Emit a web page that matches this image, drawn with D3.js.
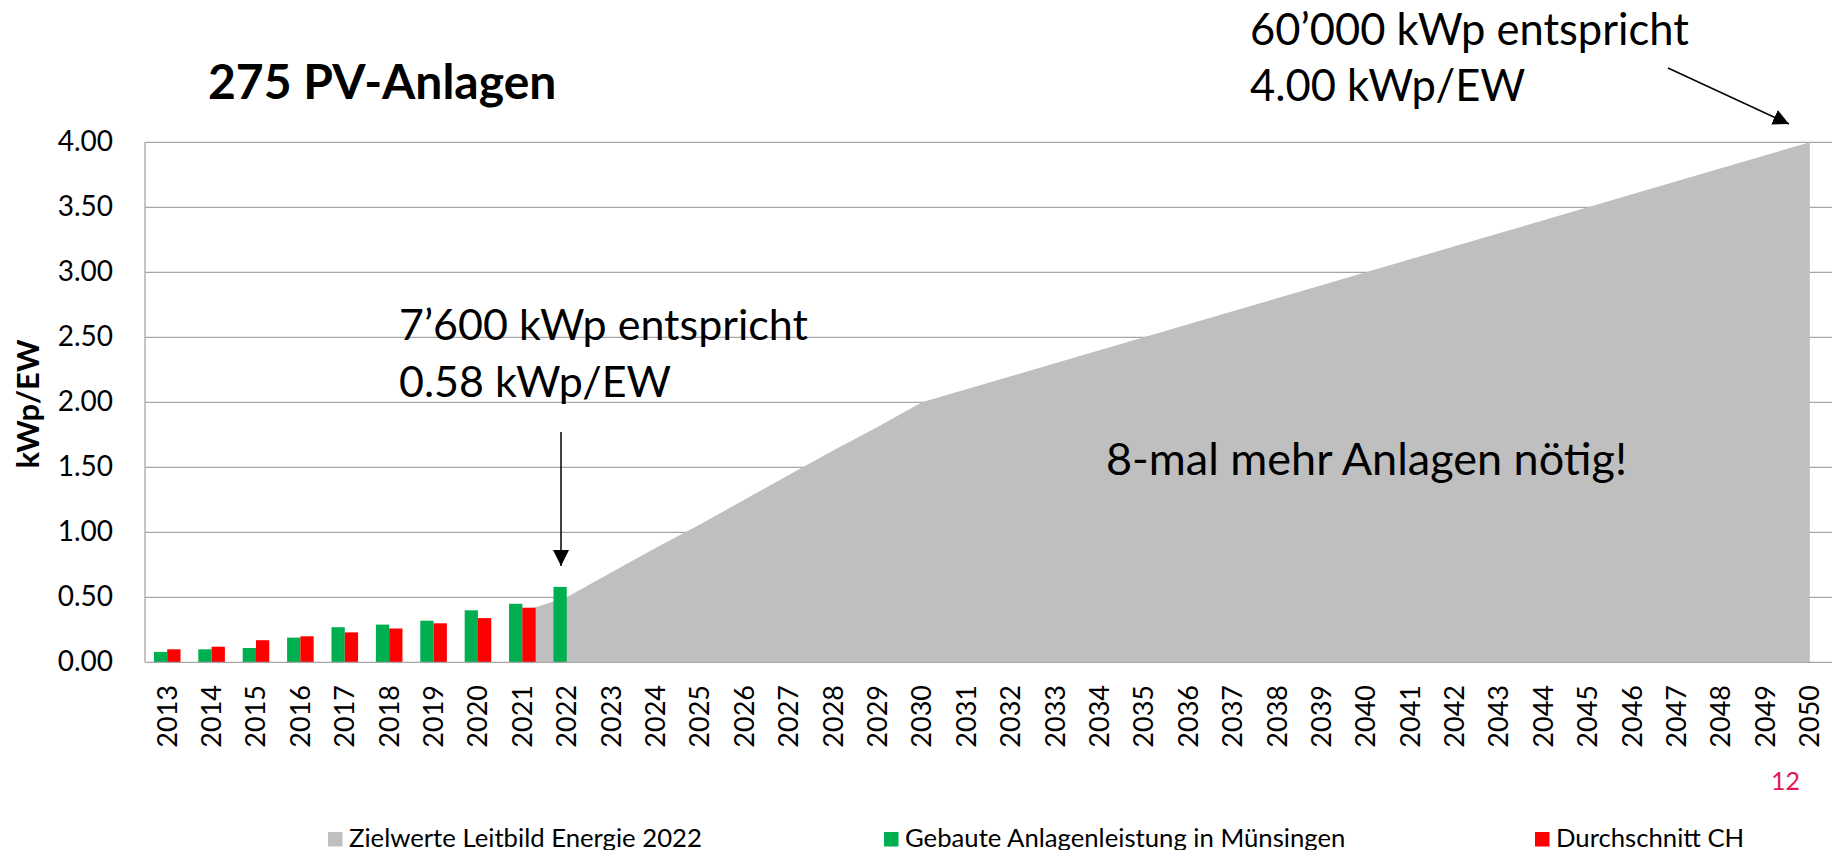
<!DOCTYPE html>
<html>
<head>
<meta charset="utf-8">
<script src="https://cdn.jsdelivr.net/npm/d3@7"></script>
<style>
  body { margin: 0; background: #fff; }
  svg { display: block; font-family: Lato, "Open Sans", sans-serif; }
</style>
</head>
<body>
<div id="container"></div>
<script>
// ---- data ----
const years = d3.range(2013, 2051).map(String);
// Gebaute Anlagenleistung in Münsingen (kWp/EW)
const built = [0.08, 0.10, 0.11, 0.19, 0.27, 0.29, 0.32, 0.40, 0.45, 0.58];
// Durchschnitt CH (kWp/EW)
const avgCH = [0.10, 0.12, 0.17, 0.20, 0.23, 0.26, 0.30, 0.34, 0.42];
// Zielwerte Leitbild Energie 2022 (kWp/EW), empty before 2021
const target = [null, null, null, null, null, null, null, null,
  0.39, 0.50, 0.69, 0.88, 1.06, 1.25, 1.44, 1.63, 1.81, 2.00,
  2.10, 2.20, 2.30, 2.40, 2.50, 2.60, 2.70, 2.80, 2.90, 3.00,
  3.10, 3.20, 3.30, 3.40, 3.50, 3.60, 3.70, 3.80, 3.90, 4.00];
const yTicks = [0, 0.5, 1, 1.5, 2, 2.5, 3, 3.5, 4];
const legendItems = ["Zielwerte Leitbild Energie 2022", "Gebaute Anlagenleistung in Münsingen", "Durchschnitt CH"];

const colors = { target: "#bfbfbf", built: "#00b050", avg: "#ff0000" };

const width = 1835, height = 850;
const svg = d3.select("#container").append("svg")
  .attr("width", width).attr("height", height);

svg.append("rect").attr("width", width).attr("height", height).attr("fill", "#fff");

// scales
const x = d3.scaleBand().domain(years).range([145, 1832]).padding(0);
const xSub = d3.scaleBand().domain(["built", "avg"]).range([0, x.bandwidth()]).paddingInner(0).paddingOuter(0.67);
const y = d3.scaleLinear().domain([0, 4]).range([662.3, 142.3]);
const cx = yr => x(yr) + x.bandwidth() / 2;

// gridlines
svg.append("g")
  .selectAll("line")
  .data(yTicks.slice(1))
  .join("line")
  .attr("x1", x.range()[0]).attr("x2", x.range()[1])
  .attr("y1", d => y(d)).attr("y2", d => y(d))
  .attr("stroke", "#a6a6a6").attr("stroke-width", 1.3);

// target area
const area = d3.area()
  .defined(d => d.v != null)
  .x(d => cx(d.year))
  .y0(y(0))
  .y1(d => y(d.v));
svg.append("path")
  .datum(years.map((yr, i) => ({ year: yr, v: target[i] })))
  .attr("d", area)
  .attr("fill", colors.target);

// bars
svg.append("g")
  .selectAll("rect")
  .data(built.map((v, i) => ({ year: years[i], v })))
  .join("rect")
  .attr("x", d => x(d.year) + xSub("built"))
  .attr("width", xSub.bandwidth())
  .attr("y", d => y(d.v))
  .attr("height", d => y(0) - y(d.v))
  .attr("fill", colors.built);

svg.append("g")
  .selectAll("rect")
  .data(avgCH.map((v, i) => ({ year: years[i], v })))
  .join("rect")
  .attr("x", d => x(d.year) + xSub("avg"))
  .attr("width", xSub.bandwidth())
  .attr("y", d => y(d.v))
  .attr("height", d => y(0) - y(d.v))
  .attr("fill", colors.avg);

// axes lines
svg.append("line")
  .attr("x1", x.range()[0]).attr("x2", x.range()[0])
  .attr("y1", y(4)).attr("y2", y(0))
  .attr("stroke", "#a6a6a6").attr("stroke-width", 1.3);
svg.append("line")
  .attr("x1", x.range()[0]).attr("x2", x.range()[1])
  .attr("y1", y(0)).attr("y2", y(0))
  .attr("stroke", "#a6a6a6").attr("stroke-width", 1.3);

// y tick labels
svg.append("g")
  .attr("font-size", 28)
  .attr("text-anchor", "end")
  .selectAll("text")
  .data(yTicks)
  .join("text")
  .attr("x", 113)
  .attr("y", d => y(d) + 9)
  .text(d => d3.format(".2f")(d));

// x tick labels (rotated)
svg.append("g")
  .attr("font-size", 27)
  .attr("text-anchor", "end")
  .selectAll("text")
  .data(years)
  .join("text")
  .attr("transform", d => `translate(${cx(d)},685) rotate(-90)`)
  .attr("dy", "0.35em")
  .text(d => d);

// y axis title
svg.append("text")
  .attr("transform", "translate(39,404) rotate(-90)")
  .attr("text-anchor", "middle")
  .attr("font-size", 31)
  .attr("font-weight", "bold")
  .text("kWp/EW");

// chart title
svg.append("text")
  .attr("x", 208).attr("y", 99)
  .attr("font-size", 48)
  .attr("font-weight", "bold")
  .text("275 PV-Anlagen");

// annotations
const note1 = svg.append("text").attr("font-size", 43);
note1.append("tspan").attr("x", 399).attr("y", 340).text("7’600 kWp entspricht");
note1.append("tspan").attr("x", 399).attr("y", 397).text("0.58 kWp/EW");

const note2 = svg.append("text").attr("font-size", 43.5);
note2.append("tspan").attr("x", 1250).attr("y", 45).text("60’000 kWp entspricht");
note2.append("tspan").attr("x", 1250).attr("y", 101).text("4.00 kWp/EW");

svg.append("text")
  .attr("x", 1106).attr("y", 475)
  .attr("font-size", 45)
  .text("8-mal mehr Anlagen nötig!");

// arrows
const defs = svg.append("defs");
defs.append("marker")
  .attr("id", "arrowhead")
  .attr("viewBox", "0 0 10 10")
  .attr("refX", 10).attr("refY", 5)
  .attr("markerWidth", 16).attr("markerHeight", 16)
  .attr("markerUnits", "userSpaceOnUse")
  .attr("orient", "auto")
  .append("path")
  .attr("d", "M0,0 L10,5 L0,10 Z")
  .attr("fill", "#000");

svg.append("line")
  .attr("x1", 561).attr("y1", 432)
  .attr("x2", 561).attr("y2", 566)
  .attr("stroke", "#000").attr("stroke-width", 1.5)
  .attr("marker-end", "url(#arrowhead)");

svg.append("line")
  .attr("x1", 1668).attr("y1", 68)
  .attr("x2", 1789).attr("y2", 124)
  .attr("stroke", "#000").attr("stroke-width", 1.5)
  .attr("marker-end", "url(#arrowhead)");

// page number
svg.append("text")
  .attr("x", 1800).attr("y", 790)
  .attr("text-anchor", "end")
  .attr("font-size", 25)
  .attr("fill", "#e2185a")
  .text("12");

// legend
const legendX = [328, 884, 1535];
const legendColors = [colors.target, colors.built, colors.avg];
const legend = svg.append("g")
  .selectAll("g")
  .data(legendItems)
  .join("g")
  .attr("transform", (d, i) => `translate(${legendX[i]},0)`);
legend.append("rect")
  .attr("y", 832).attr("width", 14.5).attr("height", 14.5)
  .attr("fill", (d, i) => legendColors[i]);
legend.append("text")
  .attr("x", 21).attr("y", 846.5)
  .attr("font-size", 25.7)
  .text(d => d);
</script>
</body>
</html>
